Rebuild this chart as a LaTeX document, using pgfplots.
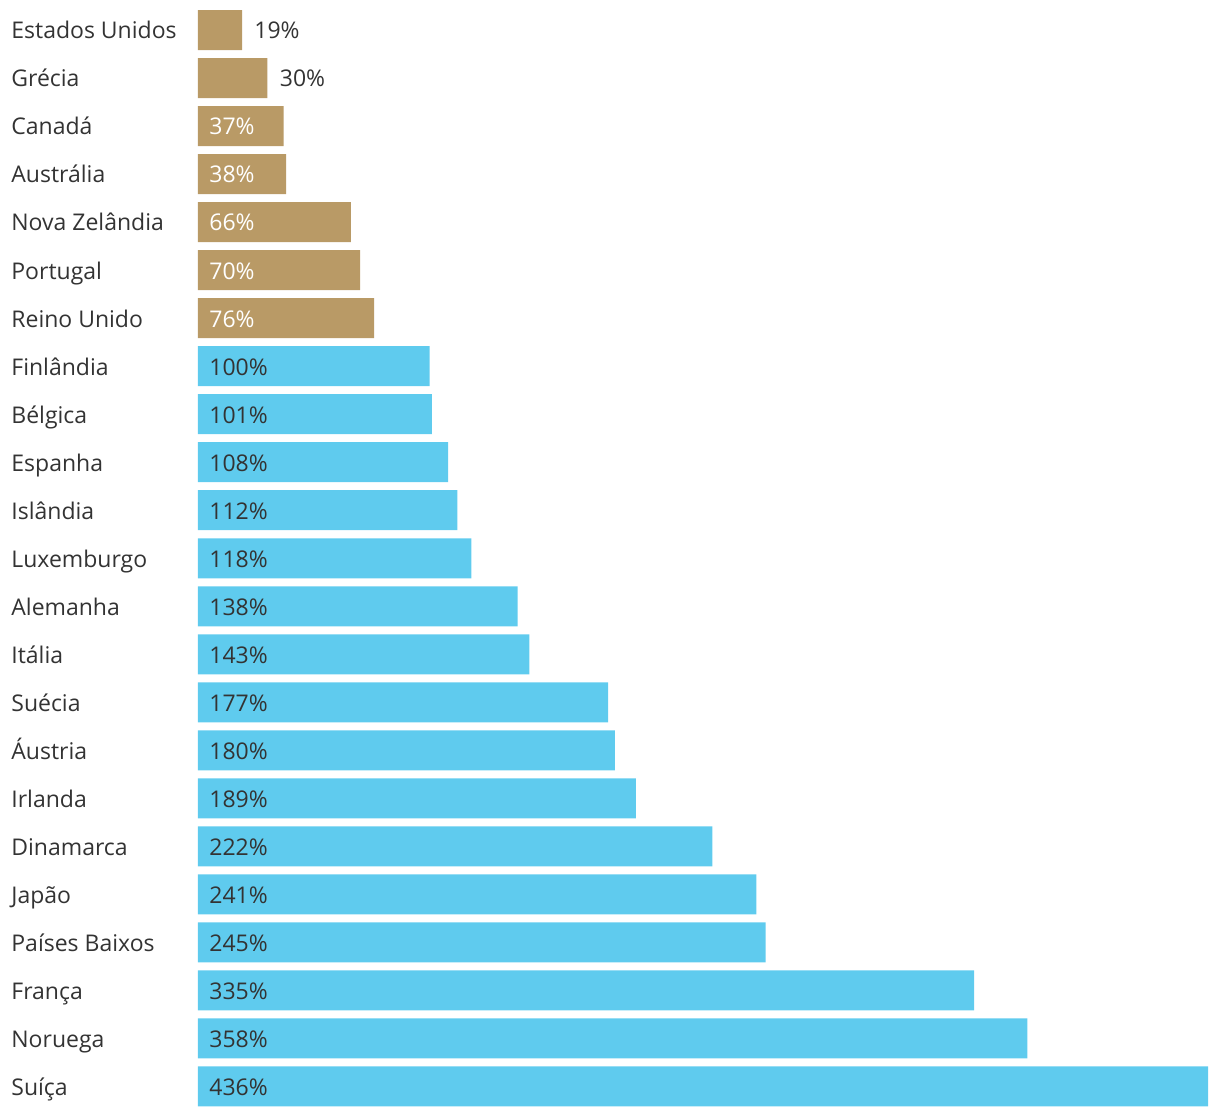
\documentclass[border=0pt]{standalone}
\usepackage{pgfplots}
\pgfplotsset{compat=1.18}
\usepackage{pgfplotstable}
\usepackage{fontspec}
\setmainfont{Open Sans}
\definecolor{gold}{HTML}{B99A66}
\definecolor{sky}{HTML}{5FCBEE}
\definecolor{txt}{HTML}{333333}

\pgfplotstableread{
y v
0 19
1 30
2 37
3 38
4 66
5 70
6 76
}\golddata
\pgfplotstableread{
y v
7 100
8 101
9 108
10 112
11 118
12 138
13 143
14 177
15 180
16 189
17 222
18 241
19 245
20 335
21 358
22 436
}\bluedata
\pgfplotstableread{
y v
0 19
1 30
}\goldout
\pgfplotstableread{
y v
2 37
3 38
4 66
5 70
6 76
}\goldin

\begin{document}
\fontsize{11.5pt}{13pt}\selectfont
\begin{tikzpicture}[lbl/.style={font=\fontsize{11.5pt}{13pt}\selectfont, text height=1.6ex, text depth=0.45ex, inner xsep=0pt, yshift=-0.9pt}]
\begin{axis}[
  name=ax,
  scale only axis,
  width=505pt, height=558pt,
  xmin=0, xmax=436,
  ymin=-0.625, ymax=22.615,
  y dir=reverse,
  axis line style={draw=none},
  xtick=\empty,
  ytick={0,...,22},
  yticklabels={Estados Unidos,Grécia,Canadá,Austrália,Nova Zelândia,Portugal,Reino Unido,Finlândia,Bélgica,Espanha,Islândia,Luxemburgo,Alemanha,Itália,Suécia,Áustria,Irlanda,Dinamarca,Japão,Países Baixos,França,Noruega,Suíça},
  major tick length=0pt,
  yticklabel style={lbl, anchor=west, xshift=-93.5pt, text=txt},
  /pgf/number format/assume math mode=true,
  xbar, bar width=20pt, bar shift=0pt,
  clip=false,
]
\addplot[fill=gold, draw=none] table[x=v, y=y] {\golddata};
\addplot[fill=sky, draw=none] table[x=v, y=y] {\bluedata};
% outside labels
\addplot[draw=none, only marks, mark=none,
  nodes near coords={\pgfmathprintnumber{\pgfplotspointmeta}\%},
  point meta=explicit,
  nodes near coords style={lbl, anchor=west, xshift=6pt, text=txt}]
  table[x=v, y=y, meta=v] {\goldout};
% inside labels gold
\addplot[draw=none, only marks, mark=none,
  nodes near coords={\pgfmathprintnumber{\pgfplotspointmeta}\%},
  point meta=explicit,
  nodes near coords style={lbl, anchor=west, xshift=5.5pt, text=white}]
  table[x expr=0, y=y, meta=v] {\goldin};
% inside labels blue
\addplot[draw=none, only marks, mark=none,
  nodes near coords={\pgfmathprintnumber{\pgfplotspointmeta}\%},
  point meta=explicit,
  nodes near coords style={lbl, anchor=west, xshift=5.5pt, text=txt}]
  table[x expr=0, y=y, meta=v] {\bluedata};
\end{axis}
\pgfresetboundingbox
\path[use as bounding box] ([xshift=-99pt]ax.south west) rectangle ([xshift=6pt]ax.north east);
\end{tikzpicture}
\end{document}
